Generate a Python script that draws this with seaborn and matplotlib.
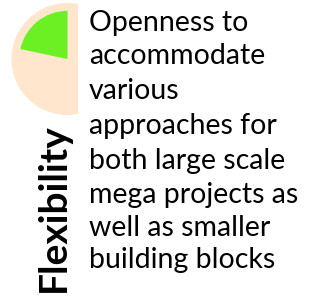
import matplotlib
matplotlib.use("Agg")
import numpy as np
import matplotlib.pyplot as plt
import seaborn as sns
from matplotlib.patches import Rectangle

# data
label = "Flexibility"
description = ["Openness to", "accommodate", "various", "approaches for",
               "both large scale", "mega projects as", "well as smaller",
               "building blocks"]
score_start_deg = 90      # wedge starts at the top
score_span_deg = 78       # filled share of the circle
score_radius = 0.86       # wedge radius relative to background disc

peach = "#FFE6CD"
green = "#6BF023"

W, H = 314, 299

sns.set_style("white")
plt.rcParams["font.family"] = ["Lato", "DejaVu Sans"]

fig = plt.figure(figsize=(W / 100, H / 100), dpi=100)

# polar disc with the green wedge
ax = fig.add_axes([0.0366, 0.615, 0.357, 0.375], projection="polar")
ax.set_facecolor(peach)
theta0 = np.deg2rad(score_start_deg)
span = np.deg2rad(score_span_deg)
ax.bar(theta0 + span / 2, score_radius, width=span, bottom=0,
       color=green, edgecolor="none")
ax.set_ylim(0, 1)
ax.grid(False)
ax.set_xticks([])
ax.set_yticks([])
ax.spines["polar"].set_visible(False)

# white panel hiding the right part of the disc
fig.add_artist(Rectangle((78 / W, 0), 1, 1, transform=fig.transFigure,
                         facecolor="white", edgecolor="none", zorder=5))

# vertical title
fig.text(65 / W, 1 - 292 / H, label, rotation=90, rotation_mode="anchor",
         ha="left", va="baseline", fontsize=28, fontweight="bold",
         color="black", zorder=6)

# description, one line at a time
baselines = [31, 64, 99, 134, 169, 203, 236, 268]
for line, yb in zip(description, baselines):
    fig.text(89 / W, 1 - yb / H, line, ha="left", va="baseline",
             fontsize=20.5, color="black", zorder=6)

fig.savefig("out.png", dpi=100, facecolor="white")
